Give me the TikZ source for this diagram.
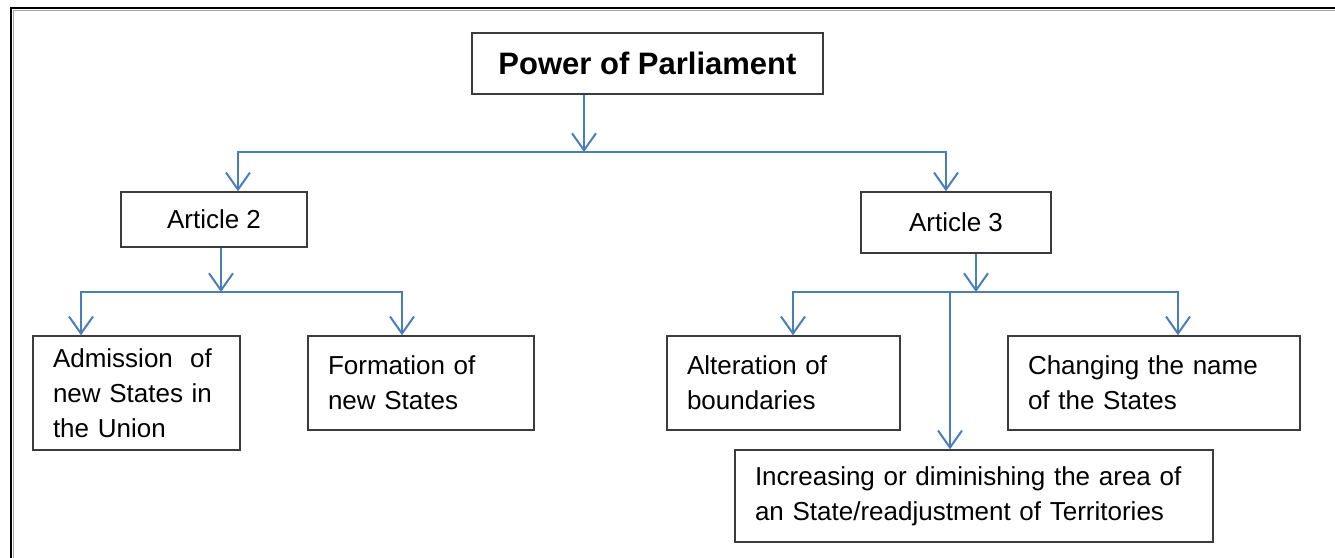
\documentclass[tikz,border=0pt]{standalone}
\usepackage{fontspec}
\setmainfont{Liberation Sans}
\usetikzlibrary{arrows.meta}
\definecolor{linkblue}{HTML}{4A7EBB}
\definecolor{boxline}{HTML}{3C3C3C}
\begin{document}
\begin{tikzpicture}[x=1pt,y=-1pt,
  box/.style={draw=boxline, line width=1.5pt, fill=white, inner ysep=0pt,
    font=\fontsize{26}{35}\selectfont},
  textbox/.style={box, align=left, inner xsep=20pt},
  link/.style={draw=linkblue, line width=2pt},
  arr/.style={link, -{Straight Barb[length=17pt,width=24pt]}},
]
\useasboundingbox (0,0) rectangle (1335,557);
% page frame (open to the right and bottom)
\draw[black!35, line width=1pt] (13.5,570) -- (13.5,10) -- (1345,10);
\draw[line width=2pt] (11,570) -- (11,7.5) -- (1345,7.5);

% boxes
\node[box, minimum width=351pt, minimum height=61pt,
  font=\fontsize{31}{36}\selectfont\bfseries] (title) at (647.5,63.5) {Power of Parliament};
\node[box, minimum width=186pt, minimum height=55pt] (art2) at (214,219.5) {Article 2};
\node[box, minimum width=190pt, minimum height=61pt] (art3) at (956,222.5) {Article 3};
\node[textbox, text width=167pt, minimum height=114pt] (adm) at (136.5,393)
  {Admission~ of\\new States in\\the Union};
\node[textbox, text width=186pt, minimum height=94pt] (form) at (421,383)
  {Formation of\\new States};
\node[textbox, text width=193pt, minimum height=94pt] (alt) at (783.5,383)
  {Alteration of\\boundaries};
\node[textbox, text width=252pt, minimum height=94pt] (chg) at (1154,383)
  {Changing the name\\of the States};
\node[textbox, text width=438pt, minimum height=92pt] (inc) at (974,496)
  {Increasing or diminishing the area of\\an State/readjustment of Territories};

% bus junctions
\coordinate (top) at (584,152);
\coordinate (topL) at (238,152);
\coordinate (topR) at (946,152);
\coordinate (midA) at (221,292);
\coordinate (midAL) at (81,292);
\coordinate (midAR) at (402,292);
\coordinate (midB) at (976,292);
\coordinate (midBL) at (793,292);
\coordinate (midBR) at (1178,292);
\coordinate (midBC) at (950,292);

% level 1
\draw[arr] (title.south -| top) -- (top);
\draw[arr] (top) -| (topL |- art2.north);
\draw[arr] (top) -| (topR |- art3.north);

% Article 2 branches
\draw[arr] (art2.south -| midA) -- (midA);
\draw[arr] (midA) -| (midAL |- adm.north);
\draw[arr] (midA) -| (midAR |- form.north);

% Article 3 branches
\draw[arr] (art3.south -| midB) -- (midB);
\draw[arr] (midB) -| (midBL |- alt.north);
\draw[arr] (midB) -| (midBR |- chg.north);
\draw[arr] (midBC) -- (midBC |- inc.north);
\end{tikzpicture}
\end{document}
